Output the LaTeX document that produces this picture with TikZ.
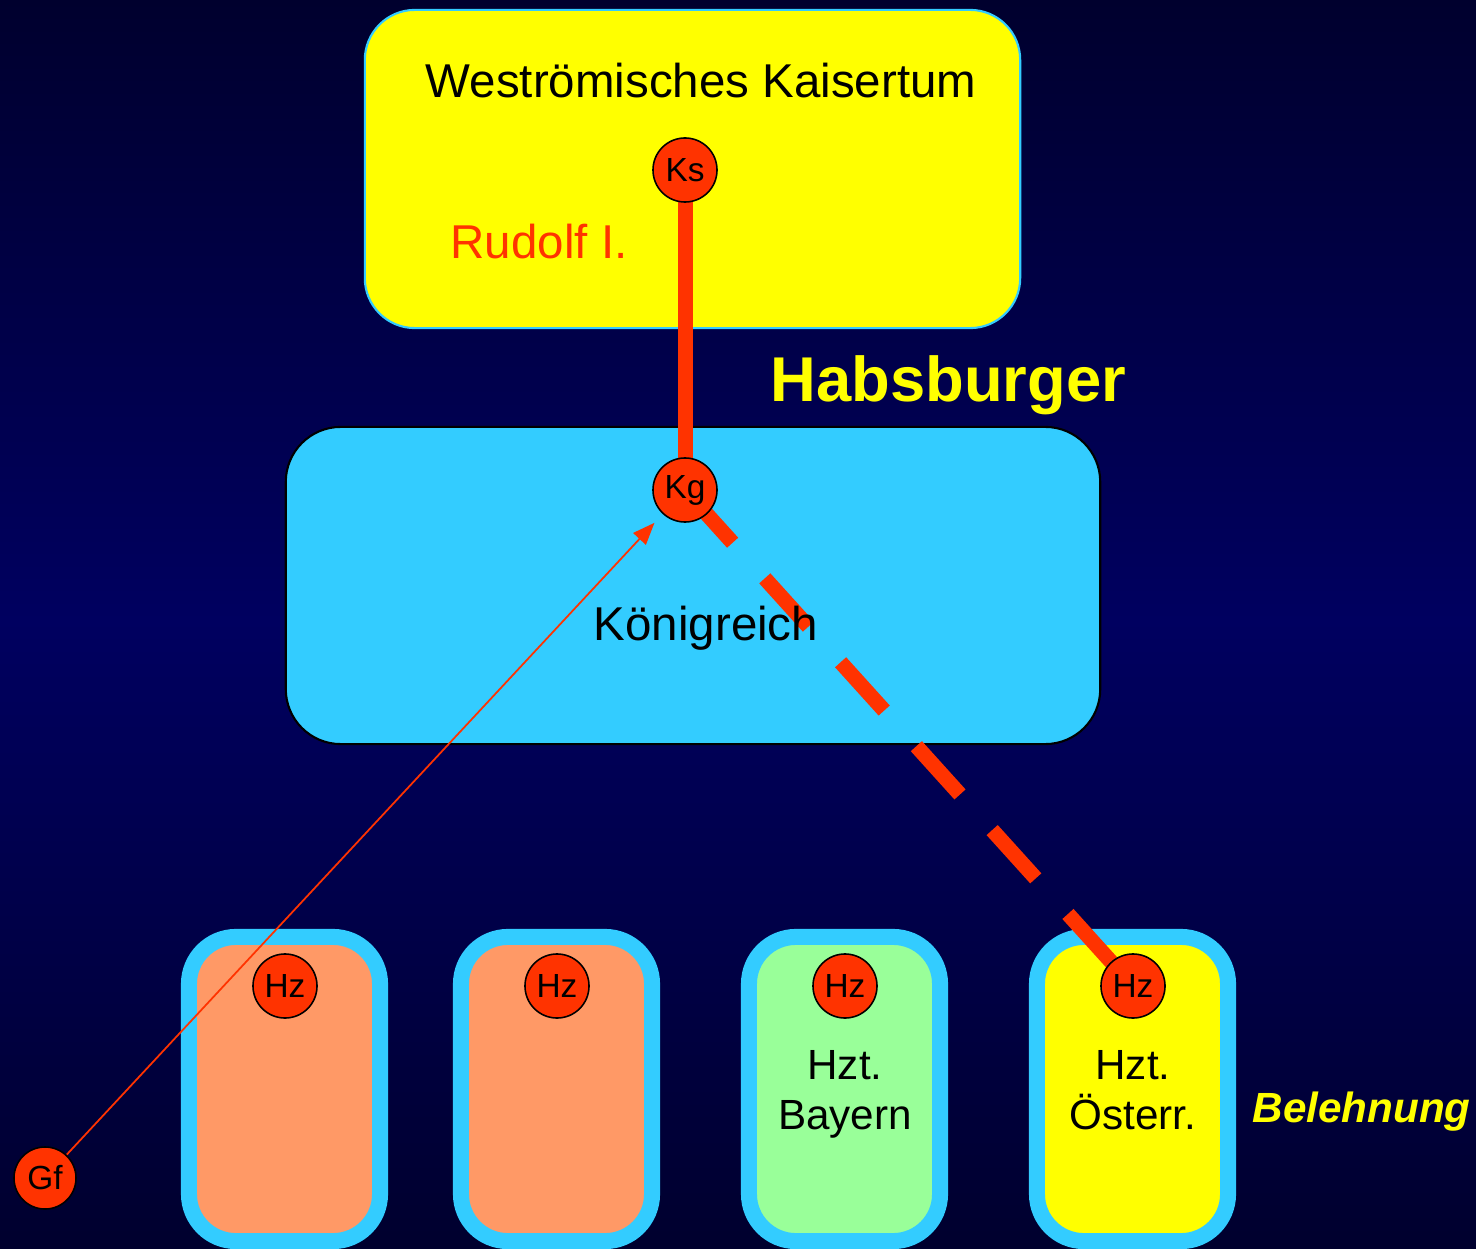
\documentclass[tikz,border=0pt]{standalone}
\usepackage{fontspec}
\setmainfont{Liberation Sans}
\usetikzlibrary{arrows.meta}
\definecolor{navytop}{HTML}{00002E}
\definecolor{navymid}{HTML}{000060}
\definecolor{kred}{HTML}{FF3300}
\definecolor{kyellow}{HTML}{FFFF00}
\definecolor{kcyan}{HTML}{33CCFF}
\definecolor{ksalmon}{HTML}{FF9966}
\definecolor{kgreen}{HTML}{99FF99}
\pgfdeclarelayer{back}
\pgfdeclarelayer{lines}
\pgfsetlayers{back,lines,main}

\begin{document}
\begin{tikzpicture}[x=0.01cm,y=-0.01cm,
  circ/.style={circle,draw=black,line width=0.45pt,fill=kred,minimum size=0.64cm,inner sep=0pt,font=\fontsize{9.5}{11}\selectfont},
  txt/.style={inner sep=0pt,font=\fontsize{13.5}{16}\selectfont},
  lehen/.style={draw=kcyan,line width=0.16cm,rounded corners=0.47cm,minimum width=1.91cm,minimum height=3.04cm,inner sep=0pt},
  hztext/.style={inner sep=0pt,align=center,anchor=north,font=\fontsize{12}{14.2}\selectfont},
  band/.style={kred,line width=0.15cm}]
      \useasboundingbox (0,0) rectangle (1476,1249);
      \begin{pgfonlayer}{back}
        \shade[top color=navytop,bottom color=navymid] (0,0) rectangle (1476,622);
        \shade[top color=navymid,bottom color=navytop] (0,620) rectangle (1476,1249);
        \node[draw=kcyan,line width=0.6pt,fill=kyellow,rounded corners=0.5cm,minimum width=6.55cm,minimum height=3.18cm] (kaiser) at (692.5,169) {};
        \node[draw=black,line width=0.6pt,fill=kcyan,rounded corners=0.55cm,minimum width=8.14cm,minimum height=3.17cm] (reich) at (693,585.5) {};
        \node[lehen,fill=ksalmon] (hzt1) at (284.5,1089) {};
        \node[lehen,fill=ksalmon] (hzt2) at (556.5,1089) {};
        \node[lehen,fill=kgreen] (hzt3) at (844.5,1089) {};
        \node[lehen,fill=kyellow] (hzt4) at (1132.5,1089) {};
      \end{pgfonlayer}
      \node[txt,anchor=base] (kaisertxt) at (701,98) {Weströmisches Kaisertum};
      \node[txt,anchor=base west,kred] (rudolf) at (450,259) {Rudolf I.};
      \node[txt,anchor=base west,kyellow,font=\bfseries\fontsize{18}{21}\selectfont] (habs) at (770,402) {Habsburger};
      \node[txt,anchor=base] (reichtxt) at (706,640) {Königreich};
      \node[txt,anchor=base west,kyellow,font=\bfseries\itshape\fontsize{12}{14}\selectfont] (beleh) at (1252,1122) {Belehnung};
      \node[hztext] (bayern) at (845,1050) {Hzt.\\Bayern};
      \node[hztext] (oesterr) at (1133,1050) {Hzt.\\Österr.};
      \node[circ] (ks) at (685,170) {Ks};
      \node[circ] (kg) at (685,490) {Kg};
      \node[circ] (hz1) at (285,986) {Hz};
      \node[circ] (hz2) at (557,986) {Hz};
      \node[circ] (hz3) at (845,986) {Hz};
      \node[circ] (hz4) at (1133,986) {Hz};
      \node[circ,minimum size=0.62cm] (gf) at (45,1178) {Gf};
      \begin{pgfonlayer}{lines}
        \draw[band] (ks.center) -- (kg.center);
        \draw[band,dash pattern=on 0.65cm off 0.48cm,dash phase=1.07cm] (kg.center) -- (hz4.center);
        \draw[kred,line width=0.5pt,-{Triangle[length=0.22cm,width=0.17cm]},shorten >=0.12cm] (gf) -- (kg);
      \end{pgfonlayer}
\end{tikzpicture}
\end{document}
